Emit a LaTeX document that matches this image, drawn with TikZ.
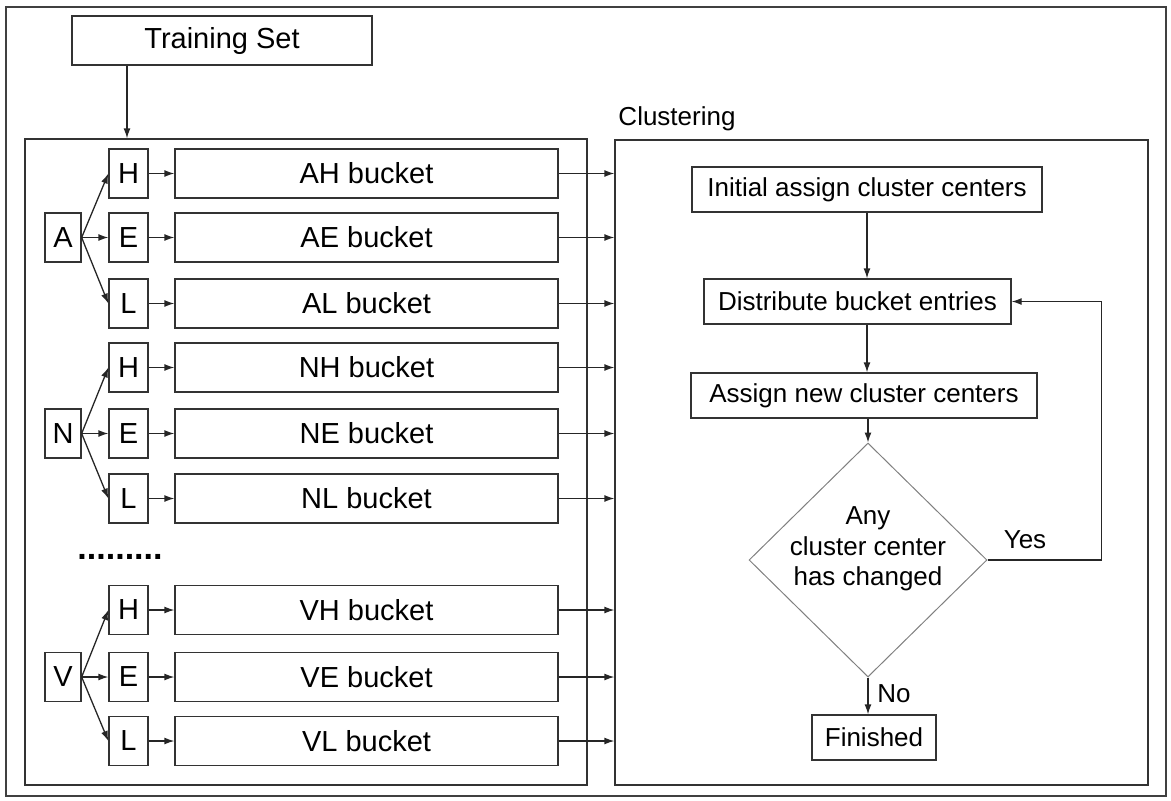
\documentclass[tikz,border=0pt]{standalone}
\usepackage{fontspec}
\setmainfont{Liberation Sans}
\usetikzlibrary{arrows.meta,shapes.geometric}
\tikzset{
  box/.style={draw=black!80,line width=1.3pt,inner sep=0pt},
  groupbox/.style={box,minimum width=36pt,minimum height=49pt,font=\fontsize{29}{34}\selectfont},
  letterbox/.style={box,minimum width=39pt,minimum height=49pt,font=\fontsize{29}{34}\selectfont},
  bucketbox/.style={box,minimum width=383pt,minimum height=49pt,font=\fontsize{29}{34}\selectfont},
  stepbox/.style={box,minimum height=45pt,font=\fontsize{26}{30}\selectfont},
  decision/.style={diamond,draw=black!50,line width=1pt,inner sep=0pt,minimum width=238pt,minimum height=234pt},
  lbl/.style={font=\fontsize{26}{30}\selectfont},
  arr/.style={-{Latex[length=10pt,width=7pt]},line width=1.3pt,draw=black!85}
}

\begin{document}
\begin{tikzpicture}[x=1pt,y=-1pt]
    \useasboundingbox (0,0) rectangle (1171,801);
    \draw[line width=1.2pt,draw=black!75] (6,7) rectangle (1166,796);
    \node[box,minimum width=300pt,minimum height=49pt,font=\fontsize{29}{34}\selectfont] (trainset) at (222,40.5) {Training Set};
    \node[box,minimum width=562pt,minimum height=646pt] (bucketsbox) at (306,462) {};
    \node[box,minimum width=533pt,minimum height=645pt] (clubox) at (881.5,462.5) {};
    \node[lbl] (clulbl) at (677,119) {Clustering};
    \draw[arr] ([xshift=-95pt]trainset.south) -- ([xshift=-95pt]trainset.south |- bucketsbox.north);
    % A group
    \node[groupbox] (a) at (63,237.5) {A};
    \node[letterbox] (ah) at (128.5,173.5) {H};
    \node[letterbox] (ae) at (128.5,237.5) {E};
    \node[letterbox] (al) at (128.5,303.5) {L};
    \node[bucketbox] (ahb) at (366.5,173.5) {AH bucket};
    \node[bucketbox] (aeb) at (366.5,237.5) {AE bucket};
    \node[bucketbox] (alb) at (366.5,303.5) {AL bucket};
    \draw[arr] (a.east) -- (ah.west);
    \draw[arr] (a.east) -- (ae.west);
    \draw[arr] (a.east) -- (al.west);
    \draw[arr] (ah.east) -- (ahb.west);
    \draw[arr] (ae.east) -- (aeb.west);
    \draw[arr] (al.east) -- (alb.west);
    \draw[arr] (ahb.east) -- (ahb.east -| clubox.west);
    \draw[arr] (aeb.east) -- (aeb.east -| clubox.west);
    \draw[arr] (alb.east) -- (alb.east -| clubox.west);
    % N group
    \node[groupbox] (n) at (63,433.5) {N};
    \node[letterbox] (nh) at (128.5,367.5) {H};
    \node[letterbox] (ne) at (128.5,433.5) {E};
    \node[letterbox] (nl) at (128.5,498.5) {L};
    \node[bucketbox] (nhb) at (366.5,367.5) {NH bucket};
    \node[bucketbox] (neb) at (366.5,433.5) {NE bucket};
    \node[bucketbox] (nlb) at (366.5,498.5) {NL bucket};
    \draw[arr] (n.east) -- (nh.west);
    \draw[arr] (n.east) -- (ne.west);
    \draw[arr] (n.east) -- (nl.west);
    \draw[arr] (nh.east) -- (nhb.west);
    \draw[arr] (ne.east) -- (neb.west);
    \draw[arr] (nl.east) -- (nlb.west);
    \draw[arr] (nhb.east) -- (nhb.east -| clubox.west);
    \draw[arr] (neb.east) -- (neb.east -| clubox.west);
    \draw[arr] (nlb.east) -- (nlb.east -| clubox.west);
    \node[font=\bfseries\fontsize{34}{34}\selectfont] (dots) at (120,557) {.........};
    % V group
    \node[groupbox] (v) at (63,677) {V};
    \node[letterbox] (vh) at (128.5,610) {H};
    \node[letterbox] (ve) at (128.5,677) {E};
    \node[letterbox] (vl) at (128.5,741) {L};
    \node[bucketbox] (vhb) at (366.5,610) {VH bucket};
    \node[bucketbox] (veb) at (366.5,677) {VE bucket};
    \node[bucketbox] (vlb) at (366.5,741) {VL bucket};
    \draw[arr] (v.east) -- (vh.west);
    \draw[arr] (v.east) -- (ve.west);
    \draw[arr] (v.east) -- (vl.west);
    \draw[arr] (vh.east) -- (vhb.west);
    \draw[arr] (ve.east) -- (veb.west);
    \draw[arr] (vl.east) -- (vlb.west);
    \draw[arr] (vhb.east) -- (vhb.east -| clubox.west);
    \draw[arr] (veb.east) -- (veb.east -| clubox.west);
    \draw[arr] (vlb.east) -- (vlb.east -| clubox.west);
    % clustering loop
    \node[stepbox,minimum width=350pt] (init) at (867,189.5) {Initial assign cluster centers};
    \node[stepbox,minimum width=307pt] (dist) at (857.5,301.5) {Distribute bucket entries};
    \node[stepbox,minimum width=346pt] (assign) at (864,395.5) {Assign new cluster centers};
    \node[decision] (chk) at (868,560) {};
    \node[align=center,font=\fontsize{26}{30.5}\selectfont] (chklbl) at (868,549) {Any\\cluster center\\has changed};
    \node[stepbox,minimum width=124pt] (fin) at (874,737.5) {Finished};
    \node[lbl] (yeslbl) at (1025,540) {Yes};
    \node[lbl] (nolbl) at (894,694) {No};
    \draw[arr] (init.south) -- (init.south |- dist.north);
    \draw[arr] (dist.south -| init.south) -- (assign.north -| init.south);
    \draw[arr] (assign.south -| chk.north) -- (chk.north);
    \draw[arr] (chk.south) -- (chk.south |- fin.north);
    \draw[arr] (chk.east) -- ++(114,0) |- (dist.east);
\end{tikzpicture}
\end{document}
